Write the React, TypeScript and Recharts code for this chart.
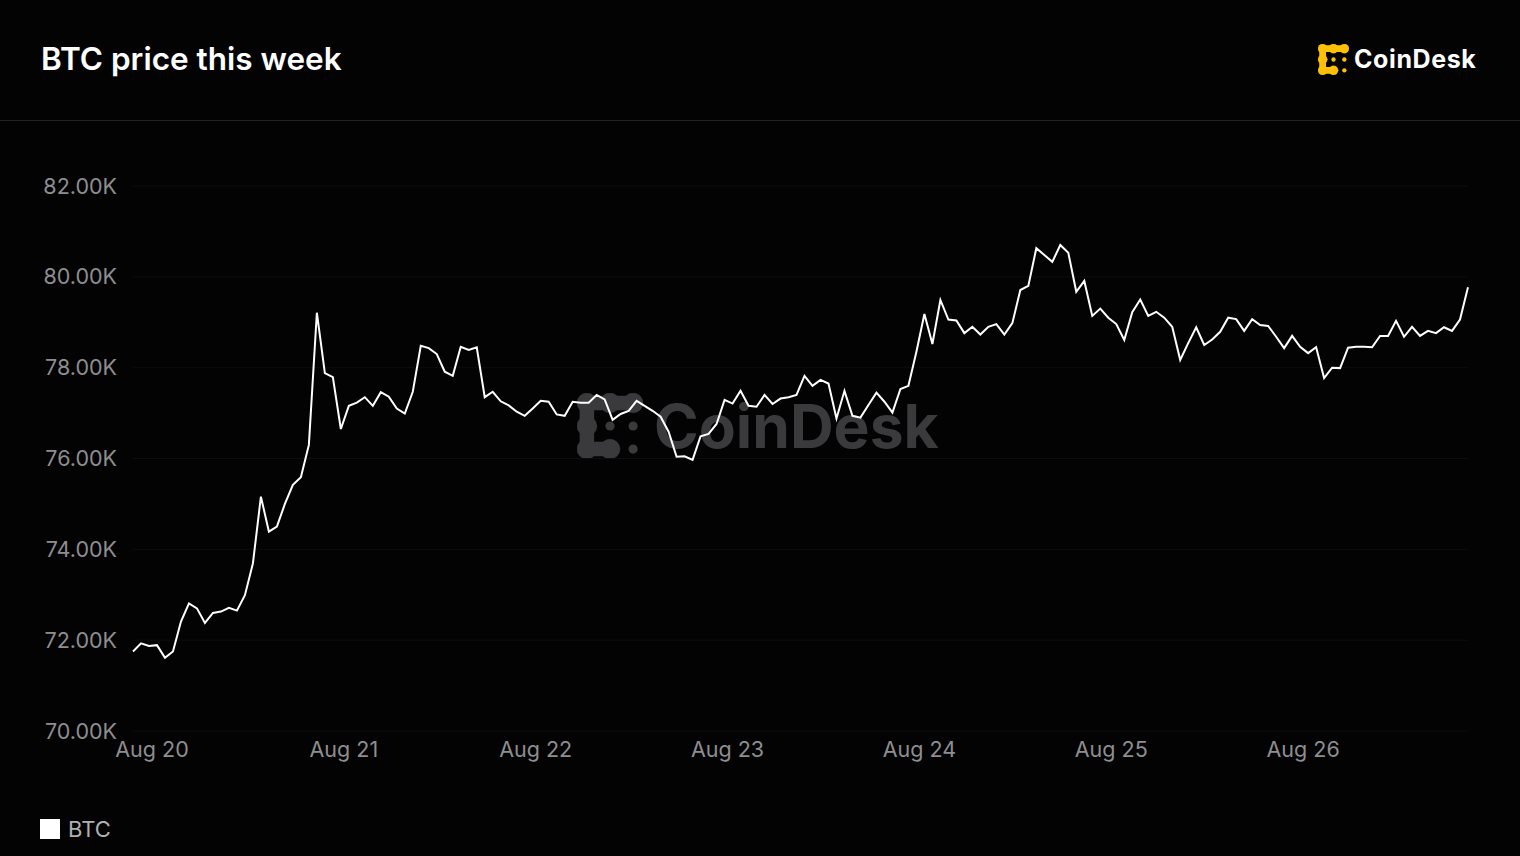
import React from 'react';
import { LineChart, Line, XAxis, YAxis, CartesianGrid } from 'recharts';

// hourly BTC price in USD thousands, first sample ~21:37 on Aug 19
const FIRST_SAMPLE_HOUR = -2.375;
const btcPrices = [
  71.75, 71.93, 71.87, 71.89, 71.61, 71.75, 72.41, 72.81, 72.7, 72.38,
  72.6, 72.63, 72.71, 72.65, 72.99, 73.69, 75.16, 74.39, 74.5, 75.0,
  75.42, 75.59, 76.3, 79.21, 77.88, 77.79, 76.65, 77.16, 77.23, 77.35,
  77.16, 77.46, 77.36, 77.1, 76.99, 77.47, 78.48, 78.43, 78.3, 77.91,
  77.82, 78.46, 78.39, 78.45, 77.35, 77.47, 77.26, 77.17, 77.03, 76.94,
  77.1, 77.27, 77.25, 76.97, 76.94, 77.25, 77.23, 77.23, 77.4, 77.3,
  76.85, 76.98, 77.05, 77.27, 77.16, 77.05, 76.92, 76.59, 76.04, 76.05,
  75.97, 76.49, 76.54, 76.76, 77.29, 77.21, 77.49, 77.16, 77.14, 77.4,
  77.2, 77.32, 77.35, 77.4, 77.82, 77.6, 77.73, 77.65, 76.88, 77.49,
  76.94, 76.9, 77.18, 77.45, 77.25, 77.01, 77.53, 77.6, 78.35, 79.18,
  78.52, 79.49, 79.06, 79.04, 78.76, 78.9, 78.73, 78.9, 78.96, 78.73,
  78.98, 79.71, 79.8, 80.63, 80.48, 80.33, 80.7, 80.53, 79.67, 79.91,
  79.14, 79.3, 79.1, 78.96, 78.61, 79.22, 79.5, 79.14, 79.23, 79.1,
  78.9, 78.17, 78.54, 78.89, 78.5, 78.62, 78.79, 79.1, 79.07, 78.81,
  79.07, 78.94, 78.92, 78.68, 78.43, 78.7, 78.46, 78.32, 78.45, 77.77,
  78.0, 77.99, 78.44, 78.46, 78.46, 78.45, 78.7, 78.7, 79.03, 78.68,
  78.9, 78.7, 78.81, 78.76, 78.89, 78.81, 79.06, 79.77,
];

const dayTicks = [0, 24, 48, 72, 96, 120, 144];
const dayLabels = ['Aug 20', 'Aug 21', 'Aug 22', 'Aug 23', 'Aug 24', 'Aug 25', 'Aug 26'];
const priceTicks = [70, 72, 74, 76, 78, 80, 82];

const data = btcPrices.map((btc, i) => ({ t: FIRST_SAMPLE_HOUR + i, btc }));

const FONT = 'Inter, "Noto Sans", sans-serif';
const BG = '#030304';

const LogoMark: React.FC<{ size: number; color: string }> = ({ size, color }) => (
  <svg width={size} height={size} viewBox="0 0 100 100">
    <g fill={color} stroke={color} strokeLinecap="round">
      <path d="M15 85 L15 15 L85 15 M15 85 L50 85" fill="none" strokeWidth={22} />
      <circle cx={15} cy={15} r={15} />
      <circle cx={50} cy={15} r={15} />
      <circle cx={85} cy={15} r={15} />
      <circle cx={15} cy={50} r={15} />
      <circle cx={15} cy={85} r={15} />
      <circle cx={50} cy={85} r={15} />
      <circle cx={50} cy={50} r={7} stroke="none" />
      <circle cx={85} cy={50} r={7} stroke="none" />
      <circle cx={85} cy={85} r={7} stroke="none" />
    </g>
  </svg>
);

export default function App() {
  return (
    <div style={{ position: 'fixed', left: 0, top: 0, width: 1520, height: 856, background: BG, fontFamily: FONT, overflow: 'hidden' }}>
      <div style={{ position: 'absolute', left: 41, top: 43, fontSize: 31.5, lineHeight: 1, fontWeight: 600, color: '#fff' }}>
        BTC price this week
      </div>
      <div style={{ position: 'absolute', left: 1318, top: 44, display: 'flex', alignItems: 'center' }}>
        <LogoMark size={31} color="#ffc107" />
        <span style={{ marginLeft: 5, fontSize: 25, fontWeight: 700, color: '#fff', letterSpacing: 0.6, lineHeight: 1 }}>CoinDesk</span>
      </div>
      <div style={{ position: 'absolute', left: 0, top: 120, width: 1520, height: 1, background: '#222224' }} />

      {/* watermark sits behind the chart */}
      <div style={{ position: 'absolute', left: 577, top: 393, display: 'flex', alignItems: 'center' }}>
        <LogoMark size={66} color="#3a3a3c" />
        <span style={{ marginLeft: 11, fontSize: 60.5, fontWeight: 700, color: '#3a3a3c', lineHeight: 1, letterSpacing: 0 }}>CoinDesk</span>
      </div>

      <div style={{ position: 'absolute', left: 0, top: 0 }}>
        <LineChart width={1520} height={856} data={data} margin={{ top: 186, right: 52, bottom: 95, left: 33 }}>
          <CartesianGrid vertical={false} stroke="#0d0d0f" />
          <XAxis
            dataKey="t"
            type="number"
            domain={['dataMin', 'dataMax']}
            ticks={dayTicks}
            interval={0}
            tickFormatter={(v) => dayLabels[dayTicks.indexOf(v)]}
            axisLine={false}
            tickLine={false}
            tickSize={0}
            tickMargin={11}
            height={30}
            tick={{ fill: '#8e8e90', fontSize: 21.5, fontFamily: FONT }}
          />
          <YAxis
            domain={[70, 82]}
            ticks={priceTicks}
            interval={0}
            tickFormatter={(v) => `${v.toFixed(2)}K`}
            axisLine={false}
            tickLine={false}
            tickSize={0}
            tickMargin={16}
            width={100}
            tick={{ fill: '#8e8e90', fontSize: 21.5, fontFamily: FONT }}
          />
          <Line type="linear" dataKey="btc" name="BTC" stroke="#ffffff" strokeWidth={2} dot={false} isAnimationActive={false} />
        </LineChart>
      </div>

      <div style={{ position: 'absolute', left: 40, top: 818, display: 'flex', alignItems: 'center' }}>
        <div style={{ width: 20, height: 20, background: '#fff' }} />
        <span style={{ marginLeft: 8, fontSize: 22, color: '#b0b0b2', lineHeight: 1 }}>BTC</span>
      </div>
    </div>
  );
}
